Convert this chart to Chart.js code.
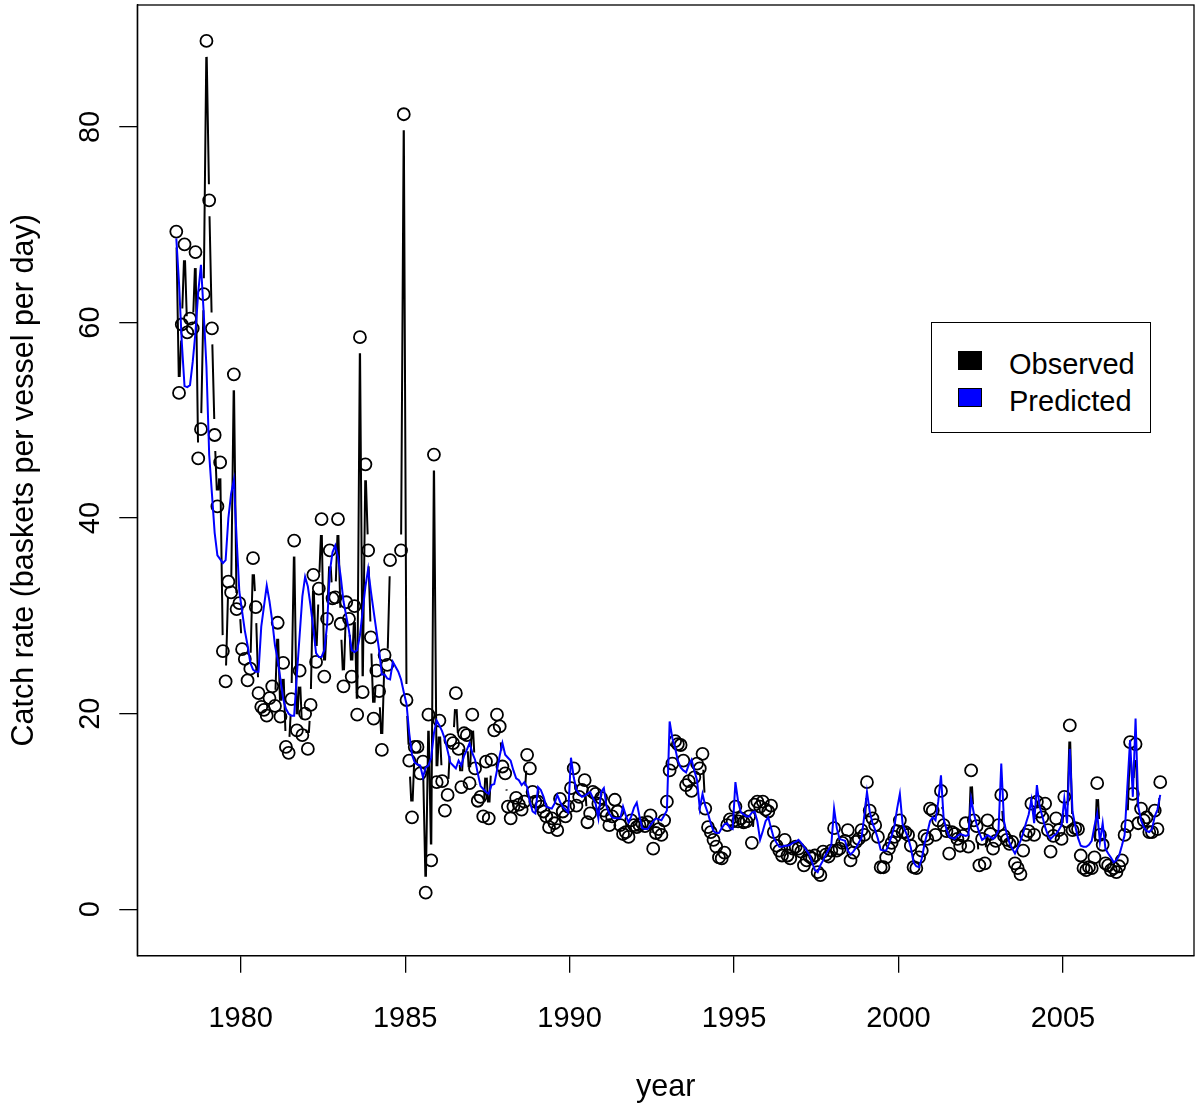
<!DOCTYPE html>
<html>
<head>
<meta charset="utf-8">
<script src="https://cdn.jsdelivr.net/npm/chart.js@4.4.1/dist/chart.umd.min.js"></script>
<style>
  body { margin: 0; background: #fff; }
  #wrap { position: relative; width: 1197px; height: 1109px; }
  #legend {
    position: absolute; left: 931px; top: 322px; width: 220px; height: 111px;
    border: 1.3px solid #000; box-sizing: border-box; background: #fff;
    font-family: 'Liberation Sans', Arial, sans-serif; font-size: 29px; color: #000;
  }
  .item { position: absolute; left: 0; height: 30px; }
  .sw { position: absolute; left: 26px; width: 24px; height: 19px; border: 1.3px solid #000; box-sizing: border-box; }
  .lb { position: absolute; left: 77px; white-space: nowrap; line-height: 30px; }
</style>
</head>
<body>
<div id="wrap">
  <canvas id="chart" width="1197" height="1109"></canvas>
  <div id="legend">
    <div class="item" style="top:26px"><div class="sw" style="top:2px;background:#000"></div><div class="lb" style="top:0">Observed</div></div>
    <div class="item" style="top:63px"><div class="sw" style="top:2px;background:#0000ff"></div><div class="lb" style="top:0">Predicted</div></div>
  </div>
</div>
<script>
// monthly catch rates, one row per year (Jan..Dec)
const years = Array.from({ length: 30 }, (_, k) => 1978 + k);

const observed = [
  [69.3, 52.8, 59.8, 68.0, 59.0, 60.4, 59.4, 67.2, 46.1, 49.1, 62.9, 88.8], // 1978
  [72.5, 59.4, 48.5, 41.2, 45.7, 26.4, 23.3, 33.5, 32.4, 54.7, 30.7, 31.3],
  [26.6, 25.6, 23.4, 24.6, 35.9, 30.9, 22.1, 20.7, 20.4, 19.8, 21.6, 22.8], // 1980
  [20.8, 29.3, 19.7, 25.2, 16.6, 16.0, 21.5, 37.7, 18.3, 24.4, 17.8, 20.0],
  [16.4, 20.9, 34.2, 25.3, 32.8, 39.9, 23.8, 29.7, 36.7, 31.8, 31.9, 39.9],
  [29.2, 22.8, 31.4, 29.7, 23.8, 31.0, 19.9, 58.5, 22.2, 45.5, 36.7, 27.8],
  [19.5, 24.4, 22.3, 16.3, 26.0, 25.0, 35.7, null, null, null, 36.7, 81.3],
  [21.4, 15.2, 9.4, 16.6, 16.6, 13.9, 15.1, 1.7, 19.9, 5.0, 46.5, 13.0], // 1985
  [19.3, 13.1, 10.1, 11.7, 17.3, 17.0, 22.1, 16.4, 12.5, 18.0, 17.8, 12.9],
  [19.9, 14.4, 11.1, 11.5, 9.5, 15.1, 9.3, 15.3, 18.3, 19.9, 18.7, 14.6],
  [13.9, 10.5, 9.3, 10.5, 11.4, 10.7, 10.2, 11.0, 15.8, 14.4, 12.0, 11.0],
  [11.0, 10.5, 10.0, 9.5, 8.4, 9.3, 8.8, 8.1, 11.3, 10.0, 9.5, 10.5],
  [12.4, 14.4, 10.6, 11.5, 12.2, 13.2, 8.9, 9.8, 12.0, 11.8, 10.8, 11.4], // 1990
  [10.1, 9.6, 8.6, 9.5, 11.2, 10.0, 8.6, 7.7, 7.9, 7.4, 9.1, 8.6],
  [8.4, 8.6, 8.8, 8.5, 8.9, 9.6, 6.2, 7.8, 8.2, 7.6, 9.1, 11.0],
  [14.2, 14.9, 17.2, 16.9, 16.8, 15.2, 12.7, 13.1, 12.1, 13.5, 14.9, 14.4],
  [15.9, 10.3, 8.4, 7.9, 7.1, 6.4, 5.3, 5.2, 5.8, 8.6, 9.2, 9.0],
  [10.5, 9.0, 9.3, 8.9, 9.0, 9.5, 6.8, 10.7, 11.0, 10.5, 11.0, 10.2], // 1995
  [10.0, 10.6, 7.9, 6.5, 6.0, 5.5, 7.1, 5.5, 5.2, 6.2, 6.4, 6.2],
  [5.9, 4.5, 5.0, 5.4, 5.2, 5.5, 3.8, 3.5, 5.9, 5.6, 5.4, 6.0],
  [8.3, 6.0, 6.2, 6.8, 7.0, 8.1, 5.0, 5.8, 6.9, 7.2, 8.1, 7.6],
  [13.0, 10.1, 9.3, 8.6, 7.4, 4.3, 4.3, 5.3, 6.2, 6.8, 7.4, 8.0],
  [9.1, 7.9, 7.9, 7.6, 6.5, 4.3, 4.2, 5.3, 6.0, 7.5, 7.2, 10.3], // 2000
  [10.1, 7.6, 9.1, 12.1, 8.6, 8.0, 5.7, 7.9, 7.7, 7.2, 6.5, 7.5],
  [8.8, 6.4, 14.2, 9.1, 8.5, 4.5, 7.2, 4.7, 9.1, 7.7, 6.2, 7.0],
  [8.6, 11.7, 7.5, 7.1, 6.7, 6.9, 4.7, 4.2, 3.6, 6.0, 7.6, 8.0],
  [10.8, 7.6, 11.0, 10.0, 9.4, 10.8, 8.1, 5.9, 7.5, 9.3, 8.1, 7.2],
  [11.5, 9.0, 18.8, 8.1, 8.3, 8.2, 5.5, 4.2, 4.0, 4.3, 4.2, 5.3], // 2005
  [12.9, 7.6, 6.6, 4.7, 4.5, 4.0, 4.2, 3.8, 4.4, 5.0, 7.6, 8.5],
  [17.1, 11.8, 16.9, 8.8, 10.3, 9.1, 9.4, 7.9, 7.9, 10.1, 8.2, 13.0]
];

const predicted = [
  [68.6, 64.0, 58.0, 53.5, 53.4, 53.6, 56.0, 59.0, 63.1, 65.9, 61.0, 55.5], // 1978
  [46.5, 42.5, 38.5, 36.2, 35.8, 35.4, 35.7, 40.0, 42.5, 43.9, 38.0, 32.5],
  [30.5, 28.5, 27.0, 25.2, 24.5, 24.3, 24.3, 28.9, 31.0, 33.1, 31.5, 29.5], // 1980
  [27.0, 25.5, 23.5, 21.5, 20.5, 20.0, 19.8, 19.8, 24.0, 28.0, 32.0, 34.0],
  [33.0, 31.0, 28.7, 26.2, 25.8, 25.8, 26.5, 29.0, 34.5, 36.5, 37.2, 36.0],
  [34.0, 31.5, 30.0, 28.5, 26.5, 26.3, 26.5, 28.0, 30.5, 33.0, 34.8, 32.5],
  [30.5, 28.5, 26.5, 24.0, 24.0, 23.6, 23.5, 25.3, 24.8, 24.3, 23.5, 22.2],
  [21.0, 18.0, 15.8, 15.0, 14.8, 14.7, 13.5, 14.5, 14.7, 15.5, 18.0, 19.3], // 1985
  [18.8, 18.2, 17.4, 16.2, 15.0, 14.7, 14.4, 15.2, 14.7, 15.7, 16.3, 17.0],
  [16.0, 15.3, 13.9, 12.6, 12.3, 12.0, 11.8, 12.7, 12.8, 14.2, 15.7, 17.0],
  [15.8, 15.5, 15.2, 14.2, 13.4, 13.2, 12.7, 13.0, 12.5, 11.0, 10.0, 9.8],
  [12.5, 12.2, 11.5, 10.5, 10.4, 10.3, 10.8, 11.7, 11.0, 10.5, 10.2, 9.9],
  [15.5, 13.5, 12.2, 11.8, 11.5, 11.6, 11.8, 12.0, 11.4, 10.8, 9.3, 12.0], // 1990
  [12.4, 10.5, 9.8, 9.4, 9.3, 9.3, 9.3, 10.5, 9.6, 8.9, 9.5, 10.4],
  [10.9, 9.5, 8.3, 8.2, 8.2, 8.6, 9.0, 9.3, 9.2, 9.1, 9.6, 10.1],
  [19.2, 17.5, 16.5, 15.2, 14.5, 14.2, 14.0, 14.8, 15.3, 14.2, 13.2, 10.3],
  [11.8, 10.6, 9.8, 8.8, 8.0, 7.8, 7.8, 8.3, 8.7, 8.8, 8.3, 8.2],
  [13.0, 11.0, 9.9, 9.7, 9.5, 9.5, 9.9, 10.0, 9.0, 7.1, 8.0, 9.0], // 1995
  [9.4, 8.3, 7.3, 6.8, 6.4, 6.4, 6.5, 6.5, 6.6, 6.8, 6.9, 7.1],
  [6.8, 6.4, 6.0, 5.6, 4.8, 4.0, 3.8, 4.5, 5.0, 5.6, 6.1, 6.6],
  [10.3, 8.3, 7.2, 7.1, 7.0, 6.0, 5.6, 5.9, 6.3, 6.8, 7.3, 9.5],
  [12.0, 10.0, 8.8, 8.1, 7.2, 6.1, 6.0, 6.0, 6.7, 7.5, 8.5, 10.3],
  [11.8, 8.7, 8.0, 7.3, 6.3, 4.8, 4.4, 4.3, 5.2, 6.7, 7.8, 9.0], // 2000
  [9.4, 9.1, 11.0, 13.7, 9.2, 8.2, 7.4, 7.3, 7.2, 7.5, 7.7, 7.6],
  [7.5, 7.6, 11.3, 9.8, 8.7, 7.8, 7.1, 7.3, 7.6, 7.4, 7.2, 7.5],
  [8.1, 14.9, 9.0, 7.7, 6.8, 6.2, 5.7, 6.3, 7.0, 7.8, 8.8, 9.7],
  [11.2, 8.8, 12.7, 10.5, 9.5, 8.4, 7.6, 7.2, 7.5, 7.7, 8.1, 8.6],
  [11.3, 8.8, 16.4, 10.0, 8.5, 7.3, 6.5, 6.4, 6.4, 6.6, 7.0, 8.5], // 2005
  [9.8, 6.9, 8.8, 6.2, 5.7, 5.3, 4.8, 5.0, 5.5, 6.5, 7.6, 12.5],
  [17.3, 11.5, 19.5, 10.5, 9.1, 8.4, 8.0, 7.9, 8.2, 9.5, 10.2, 11.7]
];

const xTicks = [1980, 1985, 1990, 1995, 2000, 2005];
const yTicks = [0, 20, 40, 60, 80];

const FONT = "'Liberation Sans', Arial, sans-serif";

function toPoints(rows) {
  const pts = [];
  years.forEach((yr, k) => {
    rows[k].forEach((v, m) => pts.push({ x: yr + (m + 0.5) / 12, y: v }));
  });
  return pts;
}

// R style type="b": line pieces that stop short of each circle
const gapLines = {
  id: 'gapLines',
  beforeDatasetsDraw(chart) {
    const meta = chart.getDatasetMeta(1);
    const ctx = chart.ctx;
    const gap = 16;
    const a = chart.chartArea;
    ctx.save();
    ctx.beginPath();
    ctx.rect(a.left, a.top, a.right - a.left, a.bottom - a.top);
    ctx.clip();
    ctx.strokeStyle = '#000';
    ctx.lineWidth = 2;
    ctx.beginPath();
    for (let i = 0; i < meta.data.length - 1; i++) {
      const p = meta.data[i], q = meta.data[i + 1];
      if (p.skip || q.skip) continue;
      const dx = q.x - p.x, dy = q.y - p.y;
      const d = Math.sqrt(dx * dx + dy * dy);
      if (d <= 2 * gap) continue;
      const ux = dx / d, uy = dy / d;
      ctx.moveTo(p.x + ux * gap, p.y + uy * gap);
      ctx.lineTo(q.x - ux * gap, q.y - uy * gap);
    }
    ctx.stroke();
    ctx.restore();
  }
};

// frame, tick labels and axis titles
const frame = {
  id: 'frame',
  afterDraw(chart) {
    const ctx = chart.ctx;
    const a = chart.chartArea;
    const xs = chart.scales.x, ys = chart.scales.y;
    ctx.save();
    ctx.strokeStyle = '#000';
    ctx.lineWidth = 1.3;
    ctx.strokeRect(a.left, a.top, a.right - a.left, a.bottom - a.top);

    ctx.fillStyle = '#000';
    ctx.font = '29px ' + FONT;
    ctx.textAlign = 'center';
    ctx.textBaseline = 'alphabetic';
    xTicks.forEach(v => ctx.fillText(String(v), xs.getPixelForValue(v), 1027));
    yTicks.forEach(v => {
      ctx.save();
      ctx.translate(99, ys.getPixelForValue(v));
      ctx.rotate(-Math.PI / 2);
      ctx.fillText(String(v), 0, 0);
      ctx.restore();
    });

    ctx.font = '30.5px ' + FONT;
    ctx.fillText('year', (a.left + a.right) / 2, 1096);
    ctx.save();
    ctx.translate(33, (a.top + a.bottom) / 2);
    ctx.rotate(-Math.PI / 2);
    ctx.fillText('Catch rate (baskets per vessel per day)', 0, 0);
    ctx.restore();
    ctx.restore();
  }
};

new Chart(document.getElementById('chart'), {
  type: 'scatter',
  data: {
    datasets: [
      {
        label: 'Predicted',
        type: 'line',
        data: toPoints(predicted),
        borderColor: '#0000ff',
        borderWidth: 2,
        pointRadius: 0,
        fill: false,
        tension: 0,
        order: 0
      },
      {
        label: 'Observed',
        data: toPoints(observed),
        showLine: false,
        pointStyle: 'circle',
        pointRadius: 6,
        pointHoverRadius: 6,
        borderColor: '#000',
        backgroundColor: 'rgba(0,0,0,0)',
        borderWidth: 1.8,
        order: 1
      }
    ]
  },
  options: {
    responsive: false,
    animation: false,
    events: [],
    layout: { autoPadding: false, padding: { top: 5, right: 3, left: 0, bottom: 0 } },
    plugins: { legend: { display: false }, tooltip: { enabled: false } },
    scales: {
      x: {
        type: 'linear',
        min: 1976.856,
        max: 2008.985,
        afterBuildTicks: s => { s.ticks = xTicks.map(v => ({ value: v })); },
        afterFit: s => { s.height = 153.3; },
        ticks: { display: false },
        grid: { drawOnChartArea: false, drawTicks: true, tickLength: 17, tickColor: '#000', lineWidth: 1.3 },
        border: { display: true, color: '#000', width: 1.3 }
      },
      y: {
        type: 'linear',
        min: -4.745,
        max: 92.47,
        afterBuildTicks: s => { s.ticks = yTicks.map(v => ({ value: v })); },
        afterFit: s => { s.width = 137.3; },
        ticks: { display: false },
        grid: { drawOnChartArea: false, drawTicks: true, tickLength: 18, tickColor: '#000', lineWidth: 1.3 },
        border: { display: true, color: '#000', width: 1.3 }
      }
    }
  },
  plugins: [gapLines, frame]
});
</script>
</body>
</html>
